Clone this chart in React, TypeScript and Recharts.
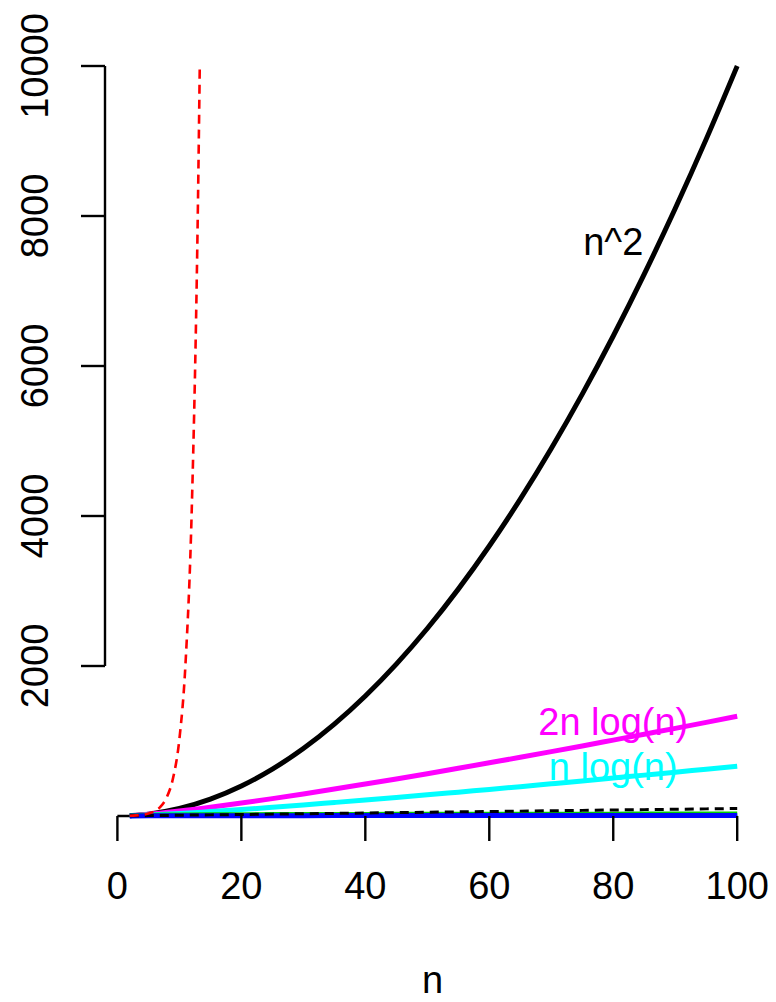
import { LineChart, Line, XAxis, YAxis, ReferenceLine, ReferenceDot } from 'recharts';

// sizes of n along the x axis
const nValues = [2, 5, 10, 15, 20, 25, 30, 35, 40, 45, 50, 55, 60, 65, 70, 75, 80, 85, 90, 95, 100];
const nSquared = [4, 25, 100, 225, 400, 625, 900, 1225, 1600, 2025, 2500, 3025, 3600, 4225, 4900, 5625, 6400, 7225, 8100, 9025, 10000];
const twoNLogN = [4, 23, 66, 117, 173, 232, 294, 359, 426, 494, 564, 636, 709, 783, 858, 934, 1012, 1090, 1168, 1248, 1329];
const nLogN = [2, 12, 33, 59, 86, 116, 147, 180, 213, 247, 282, 318, 354, 391, 429, 467, 506, 545, 584, 624, 664];
const linearN = [2, 5, 10, 15, 20, 25, 30, 35, 40, 45, 50, 55, 60, 65, 70, 75, 80, 85, 90, 95, 100];
const greenValues = [6, 10, 13, 16, 17, 19, 20, 21, 21, 22, 23, 23, 24, 24, 25, 25, 25, 26, 26, 26, 27];
const blueValues = [1, 2.3, 3.3, 3.9, 4.3, 4.6, 4.9, 5.1, 5.3, 5.5, 5.6, 5.8, 5.9, 6, 6.1, 6.2, 6.3, 6.4, 6.5, 6.6, 6.6];

// the exponential curve, cut off at the top of the plot
const expN = [2, 3, 4, 5, 6, 7, 8, 9, 10, 11, 12, 13, 13.29];
const expValues = [4, 8, 16, 32, 64, 128, 256, 512, 1024, 2048, 4096, 8192, 10000];

const xTicks = [0, 20, 40, 60, 80, 100];
const yTicks = [2000, 4000, 6000, 8000, 10000];

const FONT = '"Liberation Sans", Arial, Helvetica, sans-serif';

const table = nValues.map((n, i) => ({
  n,
  sq: nSquared[i],
  twoNlog: twoNLogN[i],
  nlog: nLogN[i],
  lin: linearN[i],
  green: greenValues[i],
  blue: blueValues[i],
}));

const expData = expN.map((n, i) => ({ n, exp: expValues[i] }));

const XTick = ({ x, payload }: any) => (
  <text x={x} y={899} textAnchor="middle" fontSize={38} fontFamily={FONT} fill="#000">
    {payload.value}
  </text>
);

const YTick = ({ y, payload }: any) => (
  <text
    transform={`translate(48, ${y}) rotate(-90)`}
    textAnchor="middle"
    fontSize={38}
    fontFamily={FONT}
    fill="#000"
  >
    {payload.value}
  </text>
);

const AxisTitle = ({ viewBox }: any) => {
  if (!viewBox) return null;
  return (
    <text
      x={viewBox.x + viewBox.width / 2 - 1}
      y={viewBox.y + viewBox.height - 9}
      textAnchor="middle"
      fontSize={38}
      fontFamily={FONT}
      fill="#000"
    >
      n
    </text>
  );
};

const labelStyle = (value: string, fill: string) => ({
  value,
  position: 'center' as const,
  fill,
  fontSize: 38,
  fontFamily: FONT,
});

export default function App() {
  return (
    <div style={{ position: 'absolute', left: 0, top: 0, background: '#fff' }}>
      <LineChart width={776} height={1002} data={table} margin={{ top: 66, right: 14, bottom: 0, left: 0 }}>
        <XAxis
          dataKey="n"
          type="number"
          domain={[-2, 104]}
          ticks={xTicks}
          height={186}
          axisLine={false}
          tickSize={25}
          tickLine={{ stroke: '#000', strokeWidth: 2.4 }}
          tick={<XTick />}
          label={<AxisTitle />}
          allowDecimals={false}
        />
        <YAxis
          type="number"
          domain={[0, 10000]}
          ticks={yTicks}
          width={105}
          axisLine={false}
          tickSize={24}
          tickLine={{ stroke: '#000', strokeWidth: 2.4 }}
          tick={<YTick />}
        />
        <ReferenceLine segment={[{ x: 0, y: 0 }, { x: 100, y: 0 }]} stroke="#000" strokeWidth={2.4} />
        <ReferenceLine segment={[{ x: -2, y: 2000 }, { x: -2, y: 10000 }]} stroke="#000" strokeWidth={2.4} />

        <Line dataKey="sq" type="monotone" stroke="#000" strokeWidth={5} dot={false} isAnimationActive={false} />
        <Line dataKey="twoNlog" type="monotone" stroke="#FF00FF" strokeWidth={5} dot={false} isAnimationActive={false} />
        <Line dataKey="nlog" type="monotone" stroke="#00FFFF" strokeWidth={5} dot={false} isAnimationActive={false} />
        <Line dataKey="green" type="monotone" stroke="#00CD00" strokeWidth={5} dot={false} isAnimationActive={false} />
        <Line dataKey="blue" type="monotone" stroke="#0000FF" strokeWidth={5} dot={false} isAnimationActive={false} />
        <Line dataKey="lin" type="linear" stroke="#000" strokeWidth={3} strokeDasharray="9 6" dot={false} isAnimationActive={false} />
        <Line
          data={expData}
          dataKey="exp"
          type="monotone"
          stroke="#FF0000"
          strokeWidth={2.6}
          strokeDasharray="9 6"
          dot={false}
          isAnimationActive={false}
        />

        <ReferenceDot x={80} y={7660} r={1} fill="none" stroke="none" label={labelStyle('n^2', '#000')} />
        <ReferenceDot x={80} y={1260} r={1} fill="none" stroke="none" label={labelStyle('2n log(n)', '#FF00FF')} />
        <ReferenceDot x={80} y={660} r={1} fill="none" stroke="none" label={labelStyle('n log(n)', '#00FFFF')} />
      </LineChart>
    </div>
  );
}
